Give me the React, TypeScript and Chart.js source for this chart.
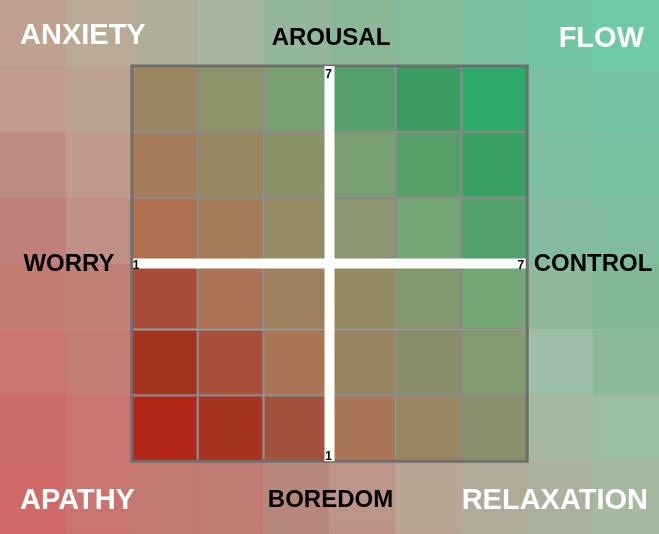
import React, { useEffect, useRef } from "react";
import { Chart, registerables } from "chart.js";

Chart.register(...registerables);

const W = 659;
const H = 534;
const COLS = 10;
const CELL = W / COLS;

// Background grid colours (rows top -> bottom, columns left -> right). null = covered by the matrix.
const bgRow0 = ["#c0a08f", "#b9a996", "#aeae98", "#a6b5a0", "#94b69b", "#8ab897", "#82bc9a", "#7ac09e", "#72c6a3", "#6ecaa6"];
const bgRow1 = ["#c29b8d", "#bca391", null, null, null, null, null, null, "#79c2a1", "#73c5a3"];
const bgRow2 = ["#bf8c84", "#c09a8d", null, null, null, null, null, null, "#7ebfa0", "#78c2a1"];
const bgRow3 = ["#be8079", "#c08f88", null, null, null, null, null, null, "#84bb9e", "#7fbd9d"];
const bgRow4 = ["#c47b74", "#c08078", null, null, null, null, null, null, "#8fb99d", "#81b998"];
const bgRow5 = ["#c87470", "#c47c75", null, null, null, null, null, null, "#9ebea7", "#8bb99c"];
const bgRow6 = ["#cc6c6a", "#c8746f", null, null, null, null, null, null, "#a7b8a2", "#9bbea5"];
const bgRow7 = ["#d06a68", "#c97470", "#c27870", "#c07c74", "#b8877c", "#bc9488", "#b9a594", "#b2aa98", "#aab29e", "#a5b8a0"];
const bgRow8 = ["#d26866", "#ca726e", "#c2786f", "#c07c74", "#b8877c", "#bc9287", "#b8a392", "#b0aa98", "#a8b29e", "#a3b8a0"];
const bgRows = [bgRow0, bgRow1, bgRow2, bgRow3, bgRow4, bgRow5, bgRow6, bgRow7, bgRow8];

// Inner 6x6 matrix (control 1..7 left->right, arousal 7..1 top->bottom)
const matrixCols = [2, 3, 4, 5, 6, 7];
const mRow1 = ["#9b8660", "#8d9369", "#7aa072", "#55a06a", "#3c9c63", "#2eaa6b"];
const mRow2 = ["#a47a58", "#96875f", "#8a9268", "#7aa072", "#589e68", "#3aa064"];
const mRow3 = ["#b07050", "#a57b57", "#958b64", "#8a9470", "#74a676", "#52a06c"];
const mRow4 = ["#a84c38", "#ac7254", "#9f7e5c", "#938a62", "#82986c", "#74a676"];
const mRow5 = ["#a53220", "#a85038", "#aa7554", "#9a8460", "#8a8e66", "#829c6e"];
const mRow6 = ["#b2261a", "#a63420", "#a2523a", "#a87656", "#9a8662", "#8c906a"];
const matrixRows = [mRow1, mRow2, mRow3, mRow4, mRow5, mRow6];
const matrixTop = 1;

// Cross axes
const crossX = 5;
const crossY = 4;
const axisTickLabels = ["1", "7"];

const cornerLabels = ["ANXIETY", "FLOW", "APATHY", "RELAXATION"];
const sideLabels = ["AROUSAL", "WORRY", "CONTROL", "BOREDOM"];

const FONT = "'Liberation Sans', Arial, Helvetica, sans-serif";

const textPlugin = {
  id: "flowText",
  afterDatasetsDraw(chart: any) {
    const { ctx, scales } = chart;
    const x = scales.x;
    const y = scales.y;
    ctx.save();
    // Corner labels (white)
    ctx.fillStyle = "#ffffff";
    ctx.font = `bold 29px ${FONT}`;
    ctx.textBaseline = "alphabetic";
    ctx.textAlign = "left";
    ctx.fillText(cornerLabels[0], 20, 44);
    ctx.fillText(cornerLabels[2], 20, 509);
    ctx.textAlign = "right";
    ctx.fillText(cornerLabels[1], 644, 47);
    ctx.fillText(cornerLabels[3], 648, 509);
    // Side labels (black)
    ctx.fillStyle = "#000000";
    ctx.font = `bold 24px ${FONT}`;
    ctx.textAlign = "center";
    ctx.fillText(sideLabels[0], 331, 45);
    ctx.fillText(sideLabels[1], 69, 271);
    ctx.fillText(sideLabels[2], 593, 271);
    ctx.fillText(sideLabels[3], 330.5, 507);
    // Axis end labels
    ctx.font = `bold 12px ${FONT}`;
    const cx = x.getPixelForValue(crossX);
    const cy = y.getPixelForValue(crossY);
    ctx.textAlign = "center";
    ctx.fillText(axisTickLabels[1], cx - 1, y.getPixelForValue(matrixTop) + 12);
    ctx.fillText(axisTickLabels[0], cx - 1, y.getPixelForValue(matrixTop + 6) - 1);
    ctx.textAlign = "left";
    ctx.fillText(axisTickLabels[0], x.getPixelForValue(matrixCols[0]) + 1, cy + 5);
    ctx.textAlign = "right";
    ctx.fillText(axisTickLabels[1], x.getPixelForValue(matrixCols[5] + 1) - 3, cy + 5);
    ctx.restore();
  },
};

export default function App() {
  const ref = useRef<HTMLCanvasElement | null>(null);
  useEffect(() => {
    document.body.style.margin = "0";
    const canvas = ref.current!;
    const datasets: any[] = [];
    bgRows.forEach((row, r) => {
      datasets.push({
        type: "bar",
        data: row.map((c, i) => (c ? { x: i + 0.5, y: [r, r + 1] } : null)).filter(Boolean),
        backgroundColor: row.filter(Boolean),
        borderWidth: 0,
        grouped: false,
        barPercentage: 1,
        categoryPercentage: 1,
        order: 10,
      });
    });
    matrixRows.forEach((row, r) => {
      datasets.push({
        type: "bar",
        data: row.map((_, i) => ({ x: matrixCols[i] + 0.5, y: [matrixTop + r, matrixTop + r + 1] })),
        backgroundColor: row,
        borderColor: "#8a8a8a",
        borderWidth: 1.5,
        borderSkipped: false,
        grouped: false,
        barPercentage: 1,
        categoryPercentage: 1,
        order: 8,
      });
    });
    const x0 = matrixCols[0];
    const x1 = matrixCols[5] + 1;
    const y0 = matrixTop;
    const y1 = matrixTop + 6;
    // vertical (arousal) axis: drawn over the frame
    datasets.push({
      type: "line",
      data: [{ x: crossX, y: y0 }, { x: crossX, y: y1 }],
      borderColor: "#ffffff",
      borderWidth: 10,
      pointRadius: 0,
      borderCapStyle: "butt",
      order: 1,
    });
    // horizontal (control) axis: under the frame
    datasets.push({
      type: "line",
      data: [{ x: x0, y: crossY }, { x: x1, y: crossY }],
      borderColor: "#ffffff",
      borderWidth: 10,
      pointRadius: 0,
      borderCapStyle: "butt",
      order: 3,
    });
    datasets.push({
      type: "line",
      data: [
        { x: x0, y: y0 },
        { x: x1, y: y0 },
        { x: x1, y: y1 },
        { x: x0, y: y1 },
        { x: x0, y: y0 },
      ],
      borderColor: "#6e6e6e",
      borderWidth: 3,
      pointRadius: 0,
      borderCapStyle: "square",
      borderJoinStyle: "miter",
      tension: 0,
      order: 2,
    });

    const chart = new Chart(canvas, {
      type: "bar",
      data: { datasets },
      options: {
        animation: false,
        responsive: false,
        maintainAspectRatio: false,
        devicePixelRatio: 1,
        events: [],
        layout: { padding: 0 },
        plugins: { legend: { display: false }, tooltip: { enabled: false } },
        scales: {
          x: { type: "linear", min: 0, max: COLS, offset: false, display: false, bounds: "data", ticks: { stepSize: 1 } },
          y: { type: "linear", min: 0, max: H / CELL, offset: false, reverse: true, display: false, bounds: "data" },
        },
      },
      plugins: [textPlugin],
    } as any);
    return () => chart.destroy();
  }, []);
  return (
    <div style={{ position: "fixed", left: 0, top: 0, width: W, height: H }}>
      <canvas ref={ref} width={W} height={H} />
    </div>
  );
}
